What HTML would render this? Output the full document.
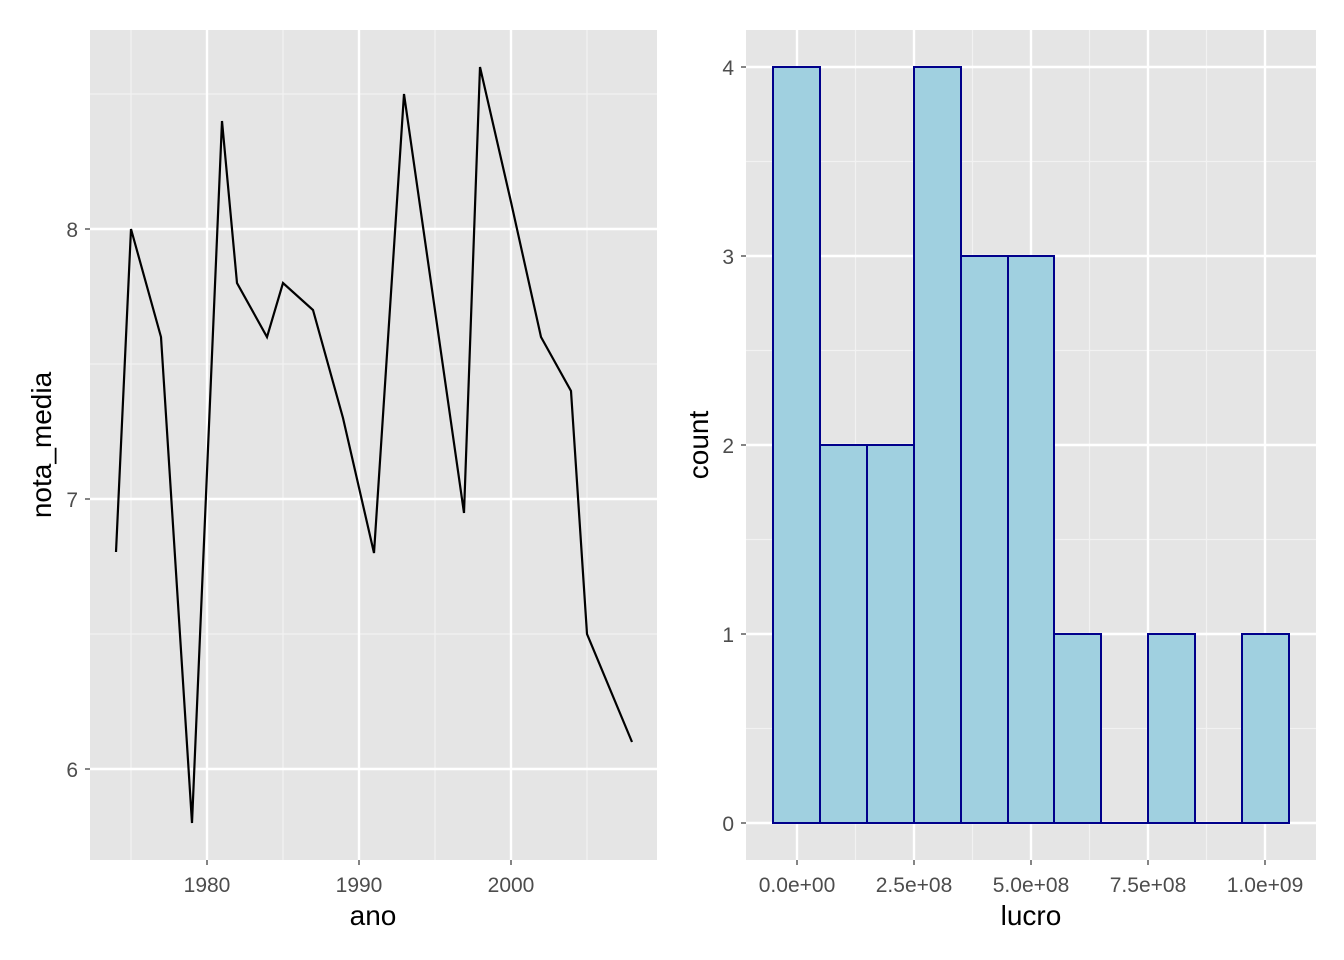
<!DOCTYPE html>
<html><head><meta charset="utf-8"><style>body{margin:0;background:#fff}svg{display:block}text{font-family:"Liberation Sans",Arial,sans-serif}</style></head><body>
<svg width="1344" height="960" viewBox="0 0 1344 960">
<rect x="90" y="30" width="567" height="830" fill="#e5e5e5"/>
<g stroke="#f2f2f2" stroke-width="1.2">
<line x1="90" x2="657" y1="94" y2="94"/><line x1="90" x2="657" y1="364" y2="364"/><line x1="90" x2="657" y1="634" y2="634"/>
<line x1="131" x2="131" y1="30" y2="860"/><line x1="283" x2="283" y1="30" y2="860"/><line x1="435" x2="435" y1="30" y2="860"/><line x1="587" x2="587" y1="30" y2="860"/>
</g>
<g stroke="#fff" stroke-width="2.4">
<line x1="90" x2="657" y1="229" y2="229"/><line x1="90" x2="657" y1="499" y2="499"/><line x1="90" x2="657" y1="769" y2="769"/>
<line x1="207" x2="207" y1="30" y2="860"/><line x1="359" x2="359" y1="30" y2="860"/><line x1="511" x2="511" y1="30" y2="860"/>
</g>
<polyline fill="none" stroke="#000" stroke-width="2.2" points="116,552 131,229 161,337 192,823 222,121 237,283 267,337 283,283 313,310 343,418 374,553 404,94 464,513 480,67 511,202 541,337 571,391 587,634 632,742"/>
<g stroke="#333" stroke-width="1.2">
<line x1="85" x2="90" y1="229" y2="229"/><line x1="85" x2="90" y1="499" y2="499"/><line x1="85" x2="90" y1="769" y2="769"/>
<line x1="207" x2="207" y1="860" y2="865"/><line x1="359" x2="359" y1="860" y2="865"/><line x1="511" x2="511" y1="860" y2="865"/>
</g>
<g fill="#4d4d4d" font-size="21">
<text x="78" y="237" text-anchor="end">8</text><text x="78" y="507" text-anchor="end">7</text><text x="78" y="777" text-anchor="end">6</text>
<text x="207" y="892" text-anchor="middle">1980</text><text x="359" y="892" text-anchor="middle">1990</text><text x="511" y="892" text-anchor="middle">2000</text>
</g>
<text x="373" y="925" font-size="28" text-anchor="middle">ano</text>
<text transform="translate(51,445) rotate(-90)" font-size="28" text-anchor="middle">nota_media</text>
<rect x="746" y="30" width="570" height="830" fill="#e5e5e5"/>
<g stroke="#f2f2f2" stroke-width="1.2">
<line x1="746" x2="1316" y1="161.5" y2="161.5"/><line x1="746" x2="1316" y1="350.5" y2="350.5"/><line x1="746" x2="1316" y1="539.5" y2="539.5"/><line x1="746" x2="1316" y1="728.5" y2="728.5"/>
<line x1="855.5" x2="855.5" y1="30" y2="860"/><line x1="972.5" x2="972.5" y1="30" y2="860"/><line x1="1089.5" x2="1089.5" y1="30" y2="860"/><line x1="1206.5" x2="1206.5" y1="30" y2="860"/>
</g>
<g stroke="#fff" stroke-width="2.4">
<line x1="746" x2="1316" y1="67" y2="67"/><line x1="746" x2="1316" y1="256" y2="256"/><line x1="746" x2="1316" y1="445" y2="445"/><line x1="746" x2="1316" y1="634" y2="634"/><line x1="746" x2="1316" y1="823" y2="823"/>
<line x1="797" x2="797" y1="30" y2="860"/><line x1="914" x2="914" y1="30" y2="860"/><line x1="1031" x2="1031" y1="30" y2="860"/><line x1="1148" x2="1148" y1="30" y2="860"/><line x1="1265" x2="1265" y1="30" y2="860"/>
</g>
<g fill="#a0d0e0" stroke="#00008b" stroke-width="2">
<rect x="773" y="67" width="47" height="756"/>
<rect x="820" y="445" width="47" height="378"/>
<rect x="867" y="445" width="47" height="378"/>
<rect x="914" y="67" width="47" height="756"/>
<rect x="961" y="256" width="47" height="567"/>
<rect x="1008" y="256" width="46" height="567"/>
<rect x="1054" y="634" width="47" height="189"/>
<line x1="1101" x2="1148" y1="823" y2="823"/>
<rect x="1148" y="634" width="47" height="189"/>
<line x1="1195" x2="1242" y1="823" y2="823"/>
<rect x="1242" y="634" width="47" height="189"/>
</g>
<g stroke="#333" stroke-width="1.2">
<line x1="741" x2="746" y1="67" y2="67"/><line x1="741" x2="746" y1="256" y2="256"/><line x1="741" x2="746" y1="445" y2="445"/><line x1="741" x2="746" y1="634" y2="634"/><line x1="741" x2="746" y1="823" y2="823"/>
<line x1="797" x2="797" y1="860" y2="865"/><line x1="914" x2="914" y1="860" y2="865"/><line x1="1031" x2="1031" y1="860" y2="865"/><line x1="1148" x2="1148" y1="860" y2="865"/><line x1="1265" x2="1265" y1="860" y2="865"/>
</g>
<g fill="#4d4d4d" font-size="21">
<text x="734" y="75" text-anchor="end">4</text><text x="734" y="264" text-anchor="end">3</text><text x="734" y="453" text-anchor="end">2</text><text x="734" y="642" text-anchor="end">1</text><text x="734" y="831" text-anchor="end">0</text>
<text x="797" y="892" text-anchor="middle">0.0e+00</text><text x="914" y="892" text-anchor="middle">2.5e+08</text><text x="1031" y="892" text-anchor="middle">5.0e+08</text><text x="1148" y="892" text-anchor="middle">7.5e+08</text><text x="1265" y="892" text-anchor="middle">1.0e+09</text>
</g>
<text x="1031" y="925" font-size="28" text-anchor="middle">lucro</text>
<text transform="translate(708,445) rotate(-90)" font-size="28" text-anchor="middle">count</text>
</svg>
</body></html>
